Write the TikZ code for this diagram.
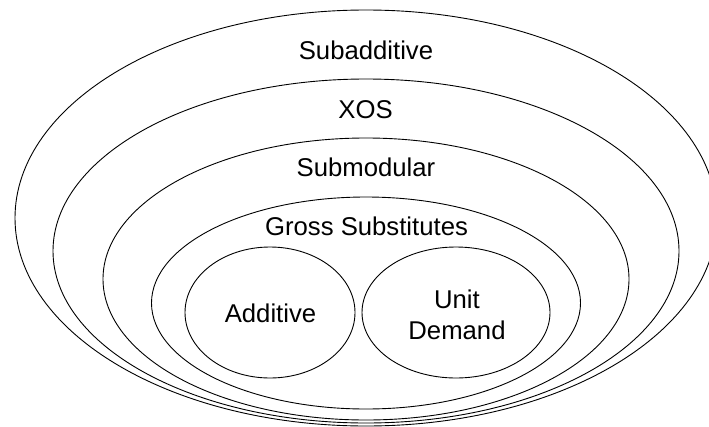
\documentclass[tikz,border=0pt]{standalone}
\usepackage{fontspec}
\setmainfont{Liberation Sans}

\begin{document}
\begin{tikzpicture}[x=1pt,y=-1pt,line width=0.9pt,
  lbl/.style={font=\fontsize{25.7}{31}\selectfont,align=center,inner sep=0pt,anchor=base}]
  \useasboundingbox (0,0) rectangle (709,426);
  \clip (0,0) rectangle (709,426);
  % nested classes
  \foreach \cy/\rx/\ry in {218/351/208,251/313/172,279/263/141,303/214.5/106}
    {\draw (366,\cy) ellipse [x radius=\rx, y radius=\ry];}
  \draw (270,312.5) ellipse [x radius=85, y radius=65.5];
  \draw (456,312.5) ellipse [x radius=94, y radius=65.5];
  \node[lbl] (subadd) at (366,59.3) {Subadditive};
  \node[lbl] (xos) at (365.5,118.7) {XOS};
  \node[lbl] (submod) at (366,176) {Submodular};
  \node[lbl] (gross) at (366.5,235) {Gross Substitutes};
  \node[lbl] (add) at (270.5,322.3) {Additive};
  % base anchor sits on the last line here
  \node[lbl] (unit) at (457,339.3) {Unit\\Demand};
\end{tikzpicture}
\end{document}
